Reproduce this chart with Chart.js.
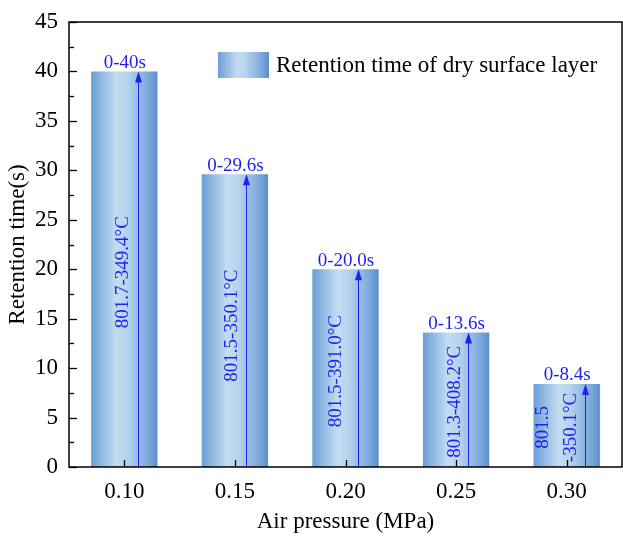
<!DOCTYPE html>
<html>
<head>
<meta charset="utf-8">
<title>Retention time of dry surface layer</title>
<script src="https://cdn.jsdelivr.net/npm/chart.js@4/dist/chart.umd.min.js"></script>
<style>
  html, body { margin: 0; padding: 0; background: #fff; }
  #wrap { width: 623px; height: 537px; }
</style>
</head>
<body>
<div id="wrap"><canvas id="retentionChart" width="623" height="537"></canvas></div>
<script>
// --- Data ---
const pressures = ['0.10', '0.15', '0.20', '0.25', '0.30'];
const retentionTimes = [40, 29.6, 20.0, 13.6, 8.4];
const timeLabels = ['0-40s', '0-29.6s', '0-20.0s', '0-13.6s', '0-8.4s'];
const tempRanges = [
  ['801.7-349.4°C'],
  ['801.5-350.1°C'],
  ['801.5-391.0°C'],
  ['801.3-408.2°C'],
  ['801.5', '-350.1°C']
];
const yMin = 0, yMax = 45, yStep = 5;

// --- Look ---
const SERIF = "'Liberation Serif', 'Times New Roman', 'DejaVu Serif', serif";
const LABEL_BLUE = '#1f1ff0';
const BAR_FRAC = 0.6;
// horizontal offsets (px from bar centre) for the arrow and the rotated text lines
const arrowShift = [13.5, 11.5, 12, 11.5, 18];
const textShift = [[-1.5], [-2.5], [-9], [-1.5], [-23.5, 4.5]];
const textDrop = [6, 8, 6, 5, 5];

function cylinderFill(ctx, x0, x1) {
  const g = ctx.createLinearGradient(x0, 0, x1, 0);
  g.addColorStop(0, '#6b9fd6');
  g.addColorStop(0.38, '#c4dcf1');
  g.addColorStop(0.55, '#b6d2ee');
  g.addColorStop(0.85, '#7eaadb');
  g.addColorStop(1, '#5a8fca');
  return g;
}

// Frame, inward ticks, legend, arrows and bar annotations
const annotatePlugin = {
  id: 'annotate',
  afterDatasetsDraw(chart) {
    const { ctx, chartArea: a, scales: { x, y } } = chart;
    const meta = chart.getDatasetMeta(0);
    ctx.save();

    meta.data.forEach((bar, i) => {
      const cx = bar.x;
      const top = y.getPixelForValue(retentionTimes[i]);
      const base = y.getPixelForValue(0);

      // arrow from axis to bar top
      const ax = Math.round(cx + arrowShift[i]) + 0.5;
      ctx.strokeStyle = LABEL_BLUE;
      ctx.fillStyle = LABEL_BLUE;
      ctx.lineWidth = 1;
      ctx.beginPath();
      ctx.moveTo(ax, base);
      ctx.lineTo(ax, top + 8);
      ctx.stroke();
      ctx.beginPath();
      ctx.moveTo(ax, top);
      ctx.lineTo(ax - 3.5, top + 11);
      ctx.lineTo(ax + 3.5, top + 11);
      ctx.closePath();
      ctx.fill();

      // time range above bar
      ctx.font = '19px ' + SERIF;
      ctx.textAlign = 'center';
      ctx.textBaseline = 'bottom';
      ctx.fillText(timeLabels[i], cx + 0.5, top + 1);

      // temperature range, rotated inside the bar
      const midY = y.getPixelForValue(retentionTimes[i] / 2) - 3 + textDrop[i];
      ctx.textBaseline = 'middle';
      tempRanges[i].forEach((line, k) => {
        ctx.save();
        ctx.translate(cx + textShift[i][k], midY);
        ctx.rotate(-Math.PI / 2);
        ctx.fillText(line, 0, 0);
        ctx.restore();
      });
    });

    // frame
    ctx.strokeStyle = '#000';
    ctx.lineWidth = 1.5;
    ctx.strokeRect(a.left, a.top, a.right - a.left, a.bottom - a.top);

    // y ticks (major + minor), pointing inward
    ctx.lineWidth = 1.3;
    for (let v = yMin; v <= yMax; v += yStep / 2) {
      const py = Math.round(y.getPixelForValue(v)) + 0.5;
      const len = (v % yStep === 0) ? 8 : 5;
      ctx.beginPath();
      ctx.moveTo(a.left, py);
      ctx.lineTo(a.left + len, py);
      ctx.stroke();
    }
    // x ticks at category centres
    pressures.forEach((_, i) => {
      const px = Math.round(x.getPixelForValue(i)) + 0.5;
      ctx.beginPath();
      ctx.moveTo(px, a.bottom);
      ctx.lineTo(px, a.bottom - 7);
      ctx.stroke();
    });

    // legend
    const lx = 218, ly = 52, lw = 51, lh = 26;
    ctx.fillStyle = cylinderFill(ctx, lx, lx + lw);
    ctx.fillRect(lx, ly, lw, lh);
    ctx.fillStyle = '#000';
    ctx.font = '23px ' + SERIF;
    ctx.textAlign = 'left';
    ctx.textBaseline = 'middle';
    ctx.fillText('Retention time of dry surface layer', lx + lw + 7, ly + lh / 2 + 1);

    ctx.restore();
  }
};

Chart.defaults.font.family = SERIF;
Chart.defaults.color = '#000';

new Chart(document.getElementById('retentionChart'), {
  type: 'bar',
  data: {
    labels: pressures,
    datasets: [{
      label: 'Retention time of dry surface layer',
      data: retentionTimes,
      categoryPercentage: BAR_FRAC,
      barPercentage: 1,
      borderWidth: 0,
      backgroundColor: (c) => {
        const chart = c.chart;
        if (!chart.chartArea || c.type !== 'data') return '#9cc2e8';
        const x = chart.scales.x;
        const cx = x.getPixelForValue(c.dataIndex);
        const half = (chart.chartArea.right - chart.chartArea.left) / pressures.length * BAR_FRAC / 2;
        return cylinderFill(chart.ctx, cx - half, cx + half);
      }
    }]
  },
  options: {
    responsive: false,
    animation: false,
    layout: { padding: { top: 22, right: 1, left: 0, bottom: 0 } },
    plugins: {
      legend: { display: false },
      tooltip: { enabled: false }
    },
    scales: {
      x: {
        grid: { display: false, drawTicks: false },
        border: { display: false },
        ticks: { font: { size: 23 }, padding: 11, color: '#000' },
        title: {
          display: true,
          text: 'Air pressure (MPa)',
          font: { size: 23 },
          padding: { top: 0, bottom: 1 }
        },
        afterFit: (s) => { s.height = 70; s.paddingLeft = 0; s.paddingRight = 0; }
      },
      y: {
        min: yMin,
        max: yMax,
        grid: { display: false, drawTicks: false },
        border: { display: false },
        ticks: { stepSize: yStep, font: { size: 23 }, padding: 11, color: '#000' },
        title: {
          display: true,
          text: 'Retention time(s)',
          font: { size: 23 },
          padding: { top: 4, bottom: 0 }
        },
        afterFit: (s) => { s.width = 69; s.paddingTop = 0; s.paddingBottom = 0; }
      }
    }
  },
  plugins: [annotatePlugin]
});
</script>
</body>
</html>
